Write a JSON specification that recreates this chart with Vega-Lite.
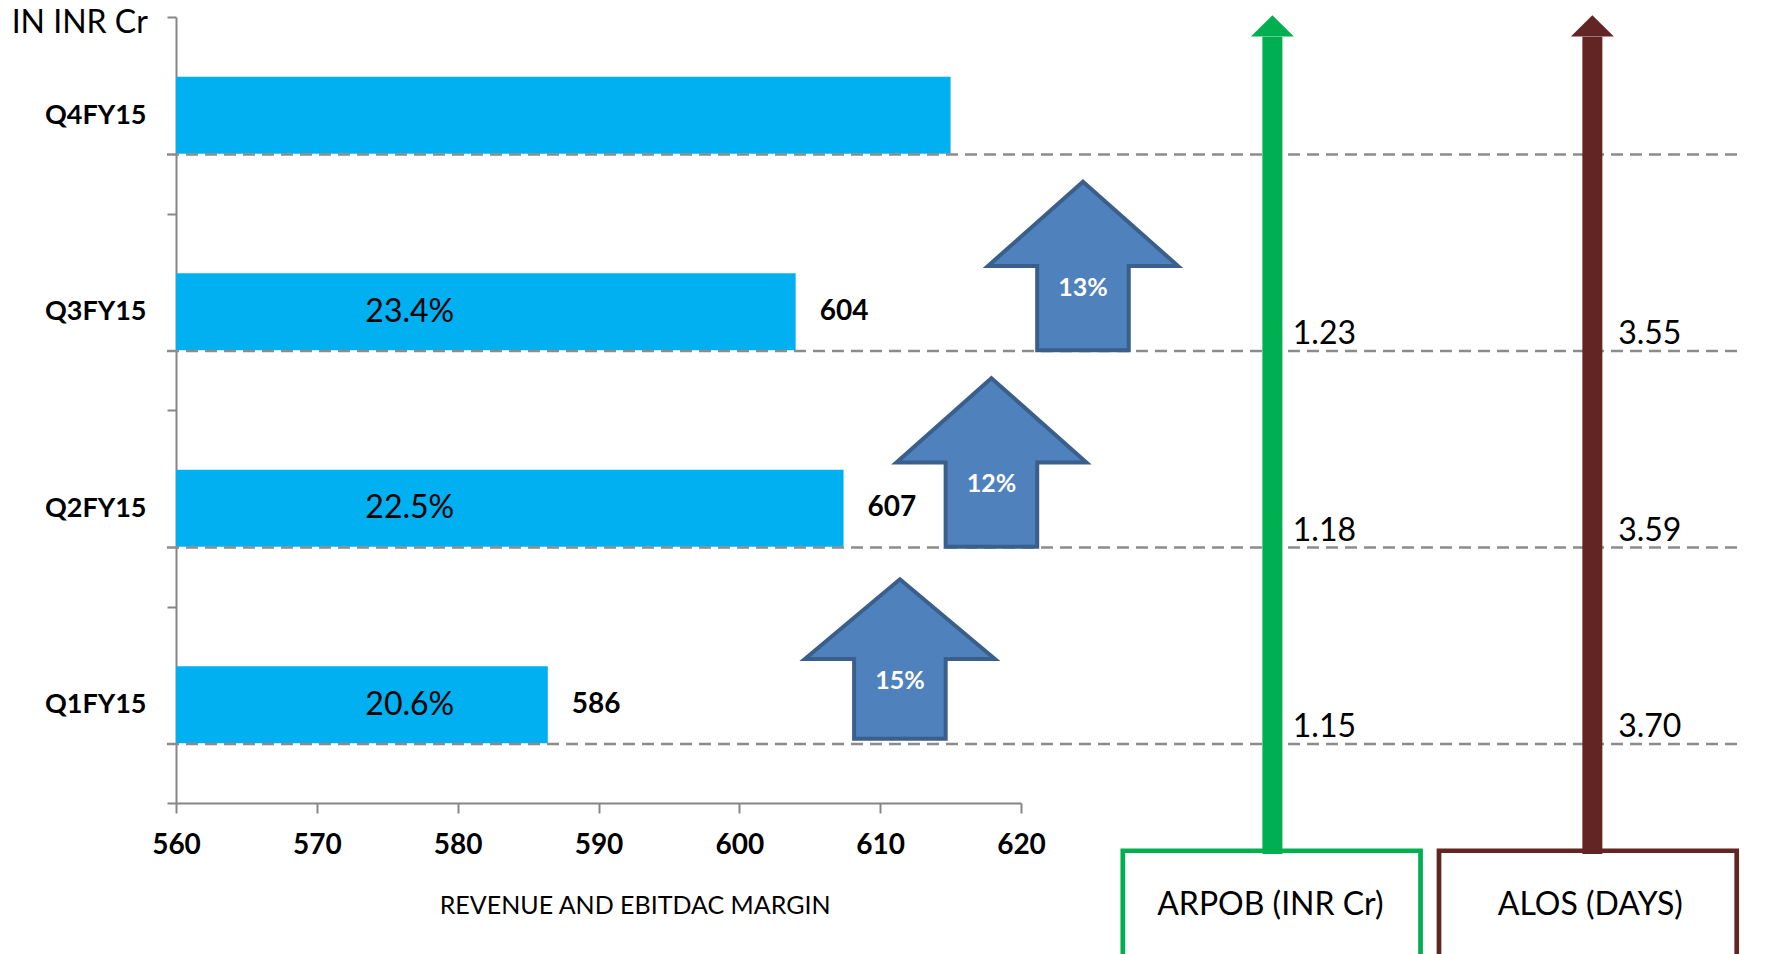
{
  "$schema": "https://vega.github.io/schema/vega-lite/v6.json",
  "autosize": "none",
  "width": 845,
  "height": 786,
  "padding": {"left": 176, "top": 17, "right": 748, "bottom": 151},
  "background": "white",
  "config": {
    "view": {"stroke": null},
    "font": "Lato",
    "axisX": {"grid": false, "domainColor": "#868686", "domainWidth": 2, "tickColor": "#868686", "tickWidth": 2, "tickSize": 10, "labelFont": "Lato", "labelFontSize": 28, "labelFontWeight": "bold", "labelColor": "#000000", "labelBaseline": "alphabetic", "labelPadding": 40, "labelFlush": false, "labelOverlap": false, "titleFont": "Lato", "titleFontSize": 25, "titleFontWeight": "normal", "titleColor": "#000000", "titleX": 458.6, "titleY": 102, "titleAlign": "center", "titleBaseline": "middle"},
    "axisY": {"grid": false, "domainColor": "#868686", "domainWidth": 2, "tickColor": "#868686", "tickWidth": 2, "tickSize": 9, "tickBand": "extent", "labelFont": "Lato", "labelFontSize": 27, "labelFontWeight": "bold", "labelColor": "#000000", "labelPadding": 21, "titleFont": "Lato", "titleFontSize": 32, "titleFontWeight": "normal", "titleColor": "#000000", "titleAngle": 0, "titleAlign": "right", "titleBaseline": "middle", "titleX": -28.7, "titleY": 5}
  },
  "datasets": {
    "quarters": [
      {"q": "Q4FY15", "revenue": 615.0, "margin": null, "arpob": null, "alos": null, "growth": null, "arrow_x": null},
      {"q": "Q3FY15", "revenue": 604.0, "margin": "23.4%", "arpob": "1.23", "alos": "3.55", "growth": "13%", "arrow_x": 624.4},
      {"q": "Q2FY15", "revenue": 607.4, "margin": "22.5%", "arpob": "1.18", "alos": "3.59", "growth": "12%", "arrow_x": 617.9},
      {"q": "Q1FY15", "revenue": 586.4, "margin": "20.6%", "arpob": "1.15", "alos": "3.70", "growth": "15%", "arrow_x": 611.4}
    ],
    "metrics": [
      {"metric": "ARPOB (INR Cr)", "x": 637.85, "left": 627.23, "right": 648.37},
      {"metric": "ALOS (DAYS)", "x": 660.57, "left": 649.68, "right": 670.82}
    ]
  },
  "resolve": {"scale": {"y": "independent"}, "axis": {"y": "independent"}},
  "layer": [
    {
      "data": {"name": "quarters"},
      "layer": [
        {
          "mark": {"type": "bar", "color": "#00B0F0", "height": {"band": 0.393}},
          "encoding": {
            "x": {"field": "revenue", "type": "quantitative", "title": "REVENUE AND EBITDAC MARGIN", "scale": {"domain": [560, 620], "nice": false, "zero": false}, "axis": {"values": [560, 570, 580, 590, 600, 610, 620]}},
            "x2": {"datum": 560},
            "y": {"field": "q", "type": "nominal", "title": "IN INR Cr", "scale": {"domain": ["Q4FY15", "Q3FY15", "Q2FY15", "Q1FY15"], "paddingInner": 0, "paddingOuter": 0}}
          }
        },
        {
          "mark": {"type": "rule", "stroke": "#8C8C8C", "strokeWidth": 2.5, "strokeDash": [12, 7]},
          "encoding": {
            "x": {"datum": 559.36, "type": "quantitative", "title": "REVENUE AND EBITDAC MARGIN", "scale": {"domain": [560, 620], "nice": false, "zero": false}},
            "x2": {"datum": 671.2},
            "y": {"field": "q", "type": "nominal", "title": "IN INR Cr", "bandPosition": 0.7, "scale": {"domain": ["Q4FY15", "Q3FY15", "Q2FY15", "Q1FY15"], "paddingInner": 0, "paddingOuter": 0}}
          }
        },
        {
          "transform": [{"filter": "datum.margin != null"}],
          "mark": {"type": "text", "font": "Lato", "fontSize": 32, "color": "#000000", "align": "center", "baseline": "middle"},
          "encoding": {
            "x": {"datum": 576.6, "type": "quantitative", "title": "REVENUE AND EBITDAC MARGIN", "scale": {"domain": [560, 620], "nice": false, "zero": false}},
            "y": {"field": "q", "type": "nominal", "title": "IN INR Cr", "scale": {"domain": ["Q4FY15", "Q3FY15", "Q2FY15", "Q1FY15"], "paddingInner": 0, "paddingOuter": 0}},
            "text": {"field": "margin"}
          }
        },
        {
          "transform": [{"filter": "datum.margin != null"}],
          "mark": {"type": "text", "font": "Lato", "fontSize": 28, "fontWeight": "bold", "color": "#000000", "align": "left", "baseline": "middle", "dx": 24},
          "encoding": {
            "x": {"field": "revenue", "type": "quantitative", "title": "REVENUE AND EBITDAC MARGIN", "scale": {"domain": [560, 620], "nice": false, "zero": false}},
            "y": {"field": "q", "type": "nominal", "title": "IN INR Cr", "scale": {"domain": ["Q4FY15", "Q3FY15", "Q2FY15", "Q1FY15"], "paddingInner": 0, "paddingOuter": 0}},
            "text": {"field": "revenue", "format": ".0f"}
          }
        },
        {
          "transform": [{"filter": "datum.arrow_x != null"}],
          "mark": {"type": "point", "size": 36100, "filled": true, "fill": "#4F81BD", "stroke": "#3A5F8B", "strokeWidth": 4, "opacity": 1, "strokeJoin": "miter"},
          "encoding": {
            "x": {"field": "arrow_x", "type": "quantitative", "title": "REVENUE AND EBITDAC MARGIN", "scale": {"domain": [560, 620], "nice": false, "zero": false}},
            "y": {"field": "q", "type": "nominal", "title": "IN INR Cr", "bandPosition": 0.267, "scale": {"domain": ["Q4FY15", "Q3FY15", "Q2FY15", "Q1FY15"], "paddingInner": 0, "paddingOuter": 0}},
            "shape": {"field": "growth", "type": "nominal", "scale": {"domain": ["15%", "12%", "13%"], "range": ["M0,-0.839L1,0L0.482,0L0.482,0.839L-0.482,0.839L-0.482,0L-1,0Z", "M0,-0.887L1,0L0.482,0L0.482,0.887L-0.482,0.887L-0.482,0L-1,0Z", "M0,-0.887L1,0L0.482,0L0.482,0.887L-0.482,0.887L-0.482,0L-1,0Z"]}, "legend": null}
          }
        },
        {
          "transform": [{"filter": "datum.arrow_x != null"}],
          "mark": {"type": "text", "font": "Lato", "fontSize": 25, "fontWeight": "bold", "color": "#FFFFFF", "align": "center", "baseline": "middle"},
          "encoding": {
            "x": {"field": "arrow_x", "type": "quantitative", "title": "REVENUE AND EBITDAC MARGIN", "scale": {"domain": [560, 620], "nice": false, "zero": false}},
            "y": {"field": "q", "type": "nominal", "title": "IN INR Cr", "bandPosition": 0.378, "scale": {"domain": ["Q4FY15", "Q3FY15", "Q2FY15", "Q1FY15"], "paddingInner": 0, "paddingOuter": 0}},
            "text": {"field": "growth"}
          }
        },
        {
          "transform": [{"filter": "datum.arpob != null"}],
          "mark": {"type": "text", "font": "Lato", "fontSize": 32, "color": "#000000", "align": "left", "baseline": "alphabetic"},
          "encoding": {
            "x": {"datum": 639.3, "type": "quantitative", "title": "REVENUE AND EBITDAC MARGIN", "scale": {"domain": [560, 620], "nice": false, "zero": false}},
            "y": {"field": "q", "type": "nominal", "title": "IN INR Cr", "bandPosition": 0.665, "scale": {"domain": ["Q4FY15", "Q3FY15", "Q2FY15", "Q1FY15"], "paddingInner": 0, "paddingOuter": 0}},
            "text": {"field": "arpob"}
          }
        },
        {
          "transform": [{"filter": "datum.alos != null"}],
          "mark": {"type": "text", "font": "Lato", "fontSize": 32, "color": "#000000", "align": "left", "baseline": "alphabetic"},
          "encoding": {
            "x": {"datum": 662.4, "type": "quantitative", "title": "REVENUE AND EBITDAC MARGIN", "scale": {"domain": [560, 620], "nice": false, "zero": false}},
            "y": {"field": "q", "type": "nominal", "title": "IN INR Cr", "bandPosition": 0.665, "scale": {"domain": ["Q4FY15", "Q3FY15", "Q2FY15", "Q1FY15"], "paddingInner": 0, "paddingOuter": 0}},
            "text": {"field": "alos"}
          }
        }
      ]
    },
    {
      "data": {"name": "metrics"},
      "layer": [
        {
          "mark": {"type": "rect", "fill": "#FFFFFF", "strokeWidth": 4.7},
          "encoding": {
            "x": {"field": "left", "type": "quantitative", "title": "REVENUE AND EBITDAC MARGIN", "scale": {"domain": [560, 620], "nice": false, "zero": false}},
            "x2": {"field": "right"},
            "y": {"datum": -0.243, "type": "quantitative", "scale": {"domain": [0, 4], "nice": false, "zero": false}, "axis": null},
            "y2": {"datum": -0.78},
            "stroke": {"field": "metric", "type": "nominal", "scale": {"domain": ["ARPOB (INR Cr)", "ALOS (DAYS)"], "range": ["#00B050", "#632523"]}, "legend": null}
          }
        },
        {
          "mark": {"type": "rule", "strokeWidth": 20, "strokeCap": "butt"},
          "encoding": {
            "x": {"field": "x", "type": "quantitative", "title": "REVENUE AND EBITDAC MARGIN", "scale": {"domain": [560, 620], "nice": false, "zero": false}},
            "y": {"datum": -0.26, "type": "quantitative", "scale": {"domain": [0, 4], "nice": false, "zero": false}, "axis": null},
            "y2": {"datum": 3.9},
            "stroke": {"field": "metric", "type": "nominal", "scale": {"domain": ["ARPOB (INR Cr)", "ALOS (DAYS)"], "range": ["#00B050", "#632523"]}, "legend": null}
          }
        },
        {
          "mark": {"type": "point", "shape": "M0,-0.49L1,0.49L-1,0.49Z", "size": 1849, "filled": true, "opacity": 1, "strokeWidth": 0},
          "encoding": {
            "x": {"field": "x", "type": "quantitative", "title": "REVENUE AND EBITDAC MARGIN", "scale": {"domain": [560, 620], "nice": false, "zero": false}},
            "y": {"datum": 3.955, "type": "quantitative", "scale": {"domain": [0, 4], "nice": false, "zero": false}, "axis": null},
            "fill": {"field": "metric", "type": "nominal", "scale": {"domain": ["ARPOB (INR Cr)", "ALOS (DAYS)"], "range": ["#00B050", "#632523"]}, "legend": null}
          }
        },
        {
          "mark": {"type": "text", "font": "Lato", "fontSize": 32, "color": "#000000", "align": "center", "baseline": "middle", "dx": -2},
          "encoding": {
            "x": {"field": "x", "type": "quantitative", "title": "REVENUE AND EBITDAC MARGIN", "scale": {"domain": [560, 620], "nice": false, "zero": false}},
            "y": {"datum": -0.517, "type": "quantitative", "scale": {"domain": [0, 4], "nice": false, "zero": false}, "axis": null},
            "text": {"field": "metric"}
          }
        }
      ]
    }
  ]
}
